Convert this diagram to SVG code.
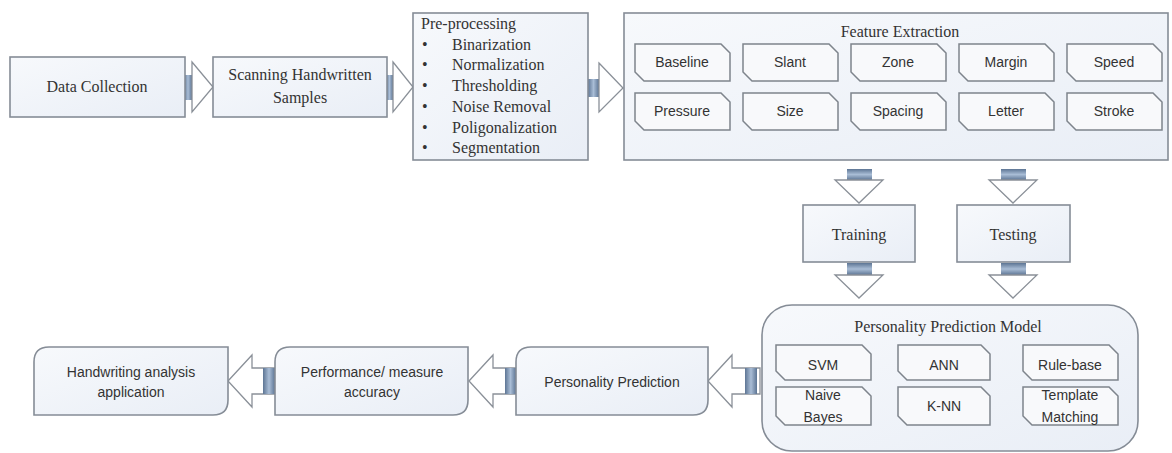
<svg xmlns="http://www.w3.org/2000/svg" width="1172" height="453" viewBox="0 0 1172 453">
<defs>
<linearGradient id="boxg" x1="0" y1="0" x2="1" y2="1">
<stop offset="0" stop-color="#f7f9fc"/>
<stop offset="1" stop-color="#e9eef6"/>
</linearGradient>
<linearGradient id="barv" x1="0" y1="0" x2="1" y2="0">
<stop offset="0" stop-color="#5d7594"/>
<stop offset="0.5" stop-color="#a9bdd6"/>
<stop offset="1" stop-color="#5d7594"/>
</linearGradient>
<linearGradient id="barh" x1="0" y1="0" x2="0" y2="1">
<stop offset="0" stop-color="#5d7594"/>
<stop offset="0.5" stop-color="#a9bdd6"/>
<stop offset="1" stop-color="#5d7594"/>
</linearGradient>
<style>
.box{fill:url(#boxg);stroke:#858c96;stroke-width:1.6}
.item{fill:#f8f9fb;stroke:#7e848c;stroke-width:1.5}
.head{fill:#ffffff;stroke:#8a9098;stroke-width:1.3}
.serif{font-family:"Liberation Serif","Times New Roman",serif;font-size:16px;fill:#333}
.sans{font-family:"Liberation Sans",Arial,sans-serif;font-size:14px;fill:#333}
.c{text-anchor:middle}
</style>
</defs>
<rect width="1172" height="453" fill="#ffffff"/>

<g id="connectors">
<!-- right arrows -->
<rect x="184" y="75" width="8" height="25" fill="url(#barv)"/>
<polygon class="head" points="192,62 213,87 192,112"/>
<rect x="386" y="75" width="7" height="25" fill="url(#barv)"/>
<polygon class="head" points="393,62 413,87 393,112"/>
<rect x="588" y="79" width="11" height="18" fill="url(#barv)"/>
<polygon class="head" points="599,63 623,88 599,112"/>
<!-- down arrows -->
<rect x="847" y="169" width="25" height="11" fill="url(#barh)"/>
<polygon class="head" points="835,180 883,180 859,203"/>
<rect x="1001" y="169" width="25" height="11" fill="url(#barh)"/>
<polygon class="head" points="989,180 1037,180 1013,203"/>
<rect x="847" y="263" width="25" height="12" fill="url(#barh)"/>
<polygon class="head" points="835,275 883,275 859,298"/>
<rect x="1001" y="263" width="25" height="12" fill="url(#barh)"/>
<polygon class="head" points="989,275 1037,275 1013,298"/>
<!-- left arrows -->
<polygon class="head" points="708,381 732,355 732,368 760,368 760,394 732,394 732,407"/>
<rect x="745" y="368" width="12" height="26" fill="url(#barv)"/>
<polygon class="head" points="469,381 493,355 493,368 516,368 516,394 493,394 493,407"/>
<rect x="505" y="368" width="11" height="26" fill="url(#barv)"/>
<polygon class="head" points="228,381 252,355 252,368 275,368 275,394 252,394 252,407"/>
<rect x="263" y="368" width="12" height="26" fill="url(#barv)"/>
</g>

<g id="data-collection">
<rect class="box" x="10" y="57" width="175" height="60"/>
<text class="serif c" x="97" y="92">Data Collection</text>
</g>

<g id="scanning">
<rect class="box" x="213" y="57" width="174" height="60"/>
<text class="serif c" x="300" y="80">Scanning Handwritten</text>
<text class="serif c" x="300" y="103">Samples</text>
</g>

<g id="preprocessing">
<rect class="box" x="413" y="13" width="175" height="147"/>
<text class="serif" x="421" y="29">Pre-processing</text>
<g class="serif">
<text x="422" y="50">•</text><text x="452" y="50">Binarization</text>
<text x="422" y="70">•</text><text x="452" y="70">Normalization</text>
<text x="422" y="91">•</text><text x="452" y="91">Thresholding</text>
<text x="422" y="112">•</text><text x="452" y="112">Noise Removal</text>
<text x="422" y="133">•</text><text x="452" y="133">Poligonalization</text>
<text x="422" y="153">•</text><text x="452" y="153">Segmentation</text>
</g>
</g>

<g id="feature-extraction">
<rect class="box" x="624" y="13" width="544" height="147"/>
<text class="serif c" x="900" y="37">Feature Extraction</text>
<g id="f-baseline"><path class="item" d="M635,44 H721 L730,53 V81 H644 L635,72 Z"/><text class="sans c" x="682" y="67">Baseline</text></g>
<g id="f-slant"><path class="item" d="M743,44 H829 L838,53 V81 H752 L743,72 Z"/><text class="sans c" x="790" y="67">Slant</text></g>
<g id="f-zone"><path class="item" d="M851,44 H937 L946,53 V81 H860 L851,72 Z"/><text class="sans c" x="898" y="67">Zone</text></g>
<g id="f-margin"><path class="item" d="M959,44 H1045 L1054,53 V81 H968 L959,72 Z"/><text class="sans c" x="1006" y="67">Margin</text></g>
<g id="f-speed"><path class="item" d="M1067,44 H1153 L1162,53 V81 H1076 L1067,72 Z"/><text class="sans c" x="1114" y="67">Speed</text></g>
<g id="f-pressure"><path class="item" d="M635,93 H721 L730,102 V130 H644 L635,121 Z"/><text class="sans c" x="682" y="116">Pressure</text></g>
<g id="f-size"><path class="item" d="M743,93 H829 L838,102 V130 H752 L743,121 Z"/><text class="sans c" x="790" y="116">Size</text></g>
<g id="f-spacing"><path class="item" d="M851,93 H937 L946,102 V130 H860 L851,121 Z"/><text class="sans c" x="898" y="116">Spacing</text></g>
<g id="f-letter"><path class="item" d="M959,93 H1045 L1054,102 V130 H968 L959,121 Z"/><text class="sans c" x="1006" y="116">Letter</text></g>
<g id="f-stroke"><path class="item" d="M1067,93 H1153 L1162,102 V130 H1076 L1067,121 Z"/><text class="sans c" x="1114" y="116">Stroke</text></g>
</g>

<g id="training">
<rect class="box" x="803" y="205" width="112" height="57"/>
<text class="serif c" x="859" y="240">Training</text>
</g>

<g id="testing">
<rect class="box" x="957" y="205" width="113" height="57"/>
<text class="serif c" x="1013" y="240">Testing</text>
</g>

<g id="model">
<rect class="box" x="762" y="305" width="376" height="146" rx="30" ry="30"/>
<text class="serif c" x="948" y="332">Personality Prediction Model</text>
<g id="m-svm"><path class="item" d="M776,345 H862 L871,354 V380 H785 L776,371 Z"/><text class="sans c" x="823" y="370">SVM</text></g>
<g id="m-ann"><path class="item" d="M898,345 H981 L990,354 V380 H907 L898,371 Z"/><text class="sans c" x="944" y="370">ANN</text></g>
<g id="m-rule"><path class="item" d="M1023,345 H1109 L1118,354 V380 H1032 L1023,371 Z"/><text class="sans c" x="1070" y="370">Rule-base</text></g>
<g id="m-nb"><path class="item" d="M776,387 H862 L871,396 V425 H785 L776,416 Z"/><text class="sans c" x="823" y="400">Naive</text><text class="sans c" x="823" y="422">Bayes</text></g>
<g id="m-knn"><path class="item" d="M898,387 H981 L990,396 V425 H907 L898,416 Z"/><text class="sans c" x="944" y="411">K-NN</text></g>
<g id="m-tm"><path class="item" d="M1023,387 H1109 L1118,396 V425 H1032 L1023,416 Z"/><text class="sans c" x="1070" y="400">Template</text><text class="sans c" x="1070" y="422">Matching</text></g>
</g>

<g id="personality-prediction">
<path class="box" d="M531,347 H708 V400 Q708,415 693,415 H516 V362 Q516,347 531,347 Z"/>
<text class="sans c" x="612" y="387">Personality Prediction</text>
</g>

<g id="performance">
<path class="box" d="M290,347 H468 V400 Q468,415 453,415 H275 V362 Q275,347 290,347 Z"/>
<text class="sans c" x="372" y="377">Performance/ measure</text>
<text class="sans c" x="372" y="397">accuracy</text>
</g>

<g id="handwriting-app">
<path class="box" d="M49,347 H228 V400 Q228,415 213,415 H34 V362 Q34,347 49,347 Z"/>
<text class="sans c" x="131" y="377">Handwriting analysis</text>
<text class="sans c" x="131" y="397">application</text>
</g>
</svg>
